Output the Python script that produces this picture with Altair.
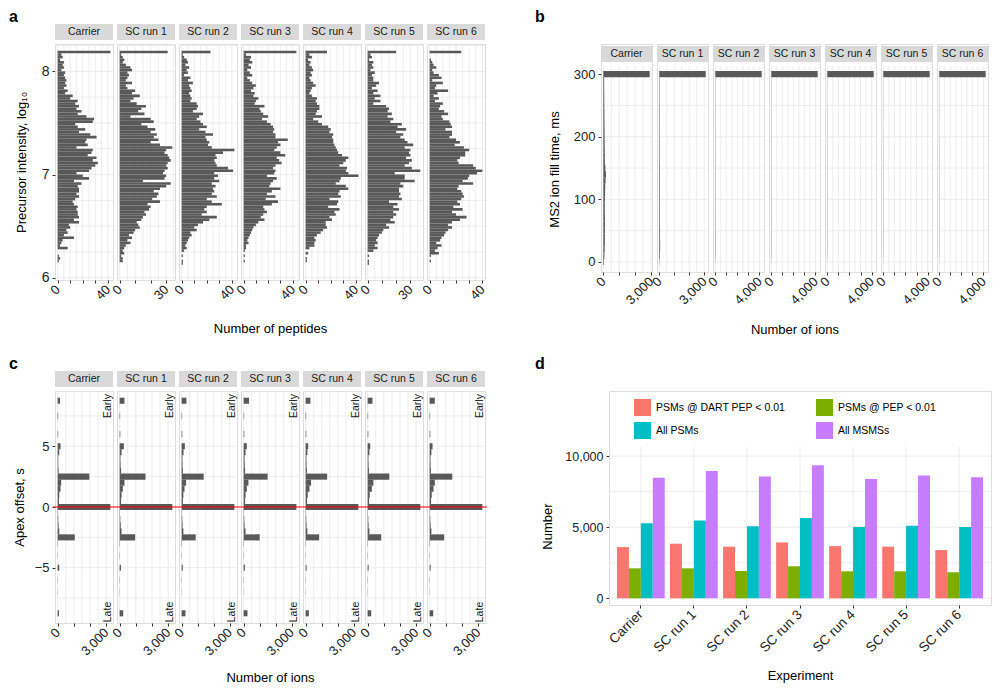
import altair as alt
import pandas as pd

RUNS = ["Carrier", "SC run 1", "SC run 2", "SC run 3", "SC run 4", "SC run 5", "SC run 6"]

# ---------------- panel a: precursor intensity histograms (bins of 0.025 log10, listed from 8.2 downwards)
A_TOP = 8.2
A_BIN = 0.025
a_carrier = [42,
             3, 4, 2, 5,
             4, 5, 3, 6, 5, 6, 7, 6, 7, 5,
             8, 6, 12, 10, 16, 14, 17, 15, 19, 16,
             23, 29, 28, 14, 16, 22, 17, 26, 31, 23,
             22, 24, 15, 28, 27, 24, 31, 28, 32, 30,
             27, 25, 15, 20, 25, 13, 19, 16, 17, 17,
             15, 17, 14, 12, 13, 16, 15, 16, 16, 17,
             13, 17, 9, 10, 7, 8, 5, 13, 4, 3,
             2, 8, 0, 0, 1, 2, 1, 0, 0]
a_sc1 = [31,
         1, 2, 3, 2,
         4, 7, 8, 5, 6, 5, 4, 8, 4, 5,
         10, 8, 13, 9, 7, 11, 17, 14, 12, 16,
         7, 20, 22, 14, 18, 23, 20, 24, 22, 25,
         20, 26, 34, 30, 29, 31, 32, 33, 31, 30,
         31, 29, 28, 30, 29, 15, 33, 30, 26, 22,
         25, 24, 21, 26, 18, 20, 19, 16, 17, 15,
         14, 11, 12, 13, 10, 9, 6, 8, 5, 7,
         4, 3, 2, 3, 1, 2, 2, 0, 0]
a_sc2 = [23,
         1, 2, 4, 5, 3, 6, 4, 5, 2, 7,
         5, 9, 6, 7, 8, 6, 7, 8, 7, 12,
         13, 12, 9, 17, 14, 12, 15, 17, 20, 14,
         19, 25, 19, 20, 22, 21, 24, 42, 33, 27,
         28, 26, 27, 28, 37, 41, 26, 29, 26, 30,
         24, 27, 25, 26, 24, 28, 20, 24, 32, 20,
         18, 20, 16, 28, 22, 17, 13, 10, 12, 7,
         8, 6, 5, 4, 3, 4, 2, 0, 1, 0, 1, 1, 0]
a_sc3 = [43,
         2, 6, 5, 7, 4, 6, 3, 5, 7, 3,
         5, 7, 10, 8, 6, 9, 8, 12, 10, 9,
         17, 13, 14, 16, 20, 15, 19, 22, 24, 25,
         24, 26, 26, 36, 28, 30, 27, 25, 30, 34,
         27, 29, 31, 26, 24, 26, 25, 19, 27, 24,
         22, 21, 30, 23, 19, 26, 18, 28, 23, 16,
         17, 19, 16, 14, 17, 12, 10, 8, 7, 6,
         5, 4, 3, 4, 2, 2, 1, 0, 1, 0, 1, 0, 0]
a_sc4 = [17,
         3, 5, 2, 4, 3, 5, 6, 4, 5, 3,
         4, 6, 8, 5, 4, 3, 5, 9, 8, 9,
         11, 11, 9, 8, 13, 6, 10, 13, 18, 20,
         19, 22, 21, 22, 22, 23, 24, 25, 26, 29,
         34, 32, 30, 27, 33, 32, 34, 42, 28, 27,
         24, 32, 34, 27, 26, 28, 19, 26, 25, 18,
         27, 23, 24, 19, 21, 16, 16, 17, 14, 12,
         9, 7, 8, 7, 7, 3, 0, 2, 0, 1, 1, 0, 0]
a_sc5 = [20,
         2, 3, 1, 4, 3, 4, 2, 5, 3, 4,
         4, 8, 6, 3, 7, 4, 9, 5, 9, 4,
         13, 15, 14, 17, 14, 18, 16, 24, 21, 27,
         20, 25, 23, 26, 28, 32, 26, 30, 29, 30,
         27, 31, 29, 26, 31, 37, 19, 26, 26, 33,
         23, 25, 22, 22, 23, 22, 24, 15, 21, 18,
         22, 18, 20, 18, 16, 19, 13, 15, 11, 10,
         8, 7, 6, 7, 5, 7, 4, 0, 1, 0, 1, 1, 0]
a_sc6 = [24,
         0, 0, 1, 2, 3, 5, 2, 3, 7, 9,
         2, 10, 5, 4, 14, 6, 3, 7, 4, 10,
         8, 7, 11, 14, 9, 10, 15, 16, 17, 12,
         17, 17, 15, 20, 23, 19, 26, 30, 27, 27,
         23, 21, 22, 33, 35, 40, 36, 30, 29, 25,
         33, 22, 21, 24, 25, 26, 24, 21, 23, 18,
         25, 17, 20, 28, 23, 17, 14, 17, 14, 12,
         11, 9, 8, 5, 9, 6, 4, 7, 1, 0, 1, 0, 0]
A_COUNTS = [a_carrier, a_sc1, a_sc2, a_sc3, a_sc4, a_sc5, a_sc6]
A_XMAX = [40, 30, 40, 40, 40, 30, 40]
A_YTICKS = [6, 7, 8]

# ---------------- panel b: MS2 fill time histograms (bins of 10 ms, centres 0..300)
B_STEP = 10
b_carrier = [40, 70, 85, 95, 100, 100, 105, 100, 95, 95, 100, 110, 120, 140, 170, 130,
             100, 95, 90, 85, 80, 80, 75, 70, 70, 65, 60, 60, 55, 55, 2920]
b_sc1 = [15, 45, 55, 55, 50, 50, 45, 45, 45, 40, 40, 40, 40, 40, 40, 40,
         35, 35, 35, 35, 30, 30, 30, 30, 30, 30, 25, 25, 25, 25, 3100]
b_sc2 = [10, 25, 30, 30, 30, 28, 28, 26, 26, 25, 25, 24, 24, 24, 24, 22,
         22, 22, 20, 20, 20, 20, 18, 18, 18, 18, 16, 16, 16, 16, 4200]
b_sc3 = [8, 20, 24, 24, 24, 22, 22, 22, 20, 20, 20, 20, 19, 19, 19, 18,
         18, 18, 17, 17, 17, 16, 16, 16, 15, 15, 15, 14, 14, 14, 4200]
b_sc4 = [6, 16, 20, 20, 20, 19, 19, 18, 18, 18, 17, 17, 17, 16, 16, 16,
         15, 15, 15, 14, 14, 14, 13, 13, 13, 12, 12, 12, 11, 11, 4190]
b_sc5 = [6, 15, 18, 18, 18, 18, 17, 17, 17, 16, 16, 16, 15, 15, 15, 14,
         14, 14, 13, 13, 13, 12, 12, 12, 11, 11, 11, 10, 10, 10, 4190]
b_sc6 = [6, 15, 18, 18, 18, 17, 17, 17, 16, 16, 16, 15, 15, 15, 14, 14,
         14, 13, 13, 13, 12, 12, 12, 11, 11, 11, 10, 10, 10, 10, 4200]
B_COUNTS = [b_carrier, b_sc1, b_sc2, b_sc3, b_sc4, b_sc5, b_sc6]
B_XMAX = [3000, 3000, 4000, 4000, 4000, 4000, 4000]
B_YTICKS = [0, 100, 200, 300]

# ---------------- panel c: apex offset histograms
C_OFFSETS = [8.75, 7.5, 6.0, 5.0, 4.5, 4.0, 3.5, 3.0, 2.5, 2.0, 1.5, 1.0, 0.5, 0.0,
             -0.5, -1.0, -1.5, -2.0, -2.5, -3.0, -4.0, -5.0, -6.0, -7.0, -8.75]
c_carrier = [150, 30, 30, 180, 100, 40, 40, 60, 1960, 220, 180, 100, 80, 3260,
             20, 40, 60, 100, 1060, 20, 15, 100, 15, 10, 80]
c_sc1 = [300, 30, 40, 260, 120, 50, 60, 90, 1600, 300, 200, 120, 90, 3260,
         20, 40, 70, 120, 960, 20, 15, 80, 15, 10, 220]
c_sc2 = [300, 30, 40, 200, 120, 50, 60, 80, 1380, 280, 180, 110, 80, 3300,
         20, 40, 60, 110, 880, 20, 15, 70, 15, 10, 240]
c_sc3 = [340, 30, 40, 200, 120, 60, 70, 90, 1500, 300, 200, 120, 90, 3300,
         20, 40, 60, 120, 1000, 20, 15, 80, 15, 10, 240]
c_sc4 = [300, 30, 40, 160, 110, 50, 60, 80, 1340, 340, 240, 130, 90, 3280,
         20, 40, 60, 110, 840, 20, 15, 60, 15, 10, 200]
c_sc5 = [300, 30, 40, 160, 110, 50, 60, 80, 1340, 360, 260, 130, 90, 3260,
         20, 40, 60, 110, 840, 20, 15, 60, 15, 10, 220]
c_sc6 = [320, 30, 40, 180, 110, 50, 60, 80, 1400, 320, 240, 130, 90, 3260,
         20, 40, 60, 110, 900, 20, 15, 60, 15, 10, 220]
C_COUNTS = [c_carrier, c_sc1, c_sc2, c_sc3, c_sc4, c_sc5, c_sc6]
C_XMAX = [3000] * 7
C_YTICKS = [-5, 0, 5]

# ---------------- panel d: identification numbers
D_SERIES = ["PSMs @ DART PEP < 0.01", "PSMs @ PEP < 0.01", "All PSMs", "All MSMSs"]
D_COLORS = ["#F8766D", "#7CAE00", "#00BFC4", "#C77CFF"]
D_LEGEND_ORDER = [0, 2, 1, 3]
d_dart = [3600, 3840, 3630, 3930, 3670, 3630, 3390]
d_pep = [2110, 2110, 1920, 2250, 1900, 1900, 1830]
d_all_psm = [5280, 5470, 5070, 5640, 5020, 5100, 5020]
d_all_msms = [8480, 8960, 8560, 9360, 8390, 8630, 8510]
D_YTICKS = [0, 5000, 10000]

# ---------------- style / layout
FONT = "Liberation Sans"
GRID = "#e8e8e8"
BAR = "#595959"
STRIP_FILL = "#d9d9d9"
TXT = "#1a1a1a"
NUMFMT = ",.0f"

W_A, SP_A, H_A = 58, 4, 236
W_B, SP_B, B_OFF, H_B_TOT = 51, 5, 22, 228
W_C, H_C = 58, 232
W_D, D_OFF, H_D_TOT = 382, 56, 214
LET_Y_TOP = -27


def letter(ch, x, y):
    return alt.Chart(pd.DataFrame({"t": [ch]})).mark_text(
        font=FONT, fontSize=16, fontWeight="bold", align="left", baseline="middle", color="#000"
    ).encode(x=alt.value(x), y=alt.value(y), text="t:N")


def strip(label, w, top):
    d = pd.DataFrame({"t": [label]})
    rect = alt.Chart(d).mark_rect(color=STRIP_FILL).encode(
        x=alt.value(0), x2=alt.value(w), y=alt.value(top - 20), y2=alt.value(top - 4))
    txt = alt.Chart(d).mark_text(font=FONT, fontSize=10.5, color=TXT).encode(
        x=alt.value(w / 2), y=alt.value(top - 12), text="t:N")
    return [rect, txt]


def x_axis(values, lab, title, tpad):
    return alt.Axis(values=values, format=NUMFMT,
                    labelExpr=f"datum.value == 0 || datum.value == {lab} ? datum.label : ''",
                    title=title, grid=False, domain=False, ticks=True, tickSize=3, tickColor="#333",
                    labelAngle=-45, labelAlign="right", labelBaseline="middle", labelPadding=4,
                    labelFontSize=13, labelColor="#222", titleFontSize=13, titleFontWeight="normal",
                    titleColor="#000", titlePadding=tpad)


def y_axis(values, title, pad, fs=13):
    return alt.Axis(values=values, format=NUMFMT, title=title, grid=False, domain=False, tickSize=3,
                    tickColor="#333", labelFontSize=fs, labelColor="#222", labelPadding=3,
                    titleFontSize=13, titleFontWeight="normal", titleColor="#000", titlePadding=pad)


def grid_x(step, stop, xs, xax, y0, y1):
    return alt.Chart(alt.sequence(0, stop, step, as_="g")).mark_rule(color=GRID, strokeWidth=0.8).encode(
        x=alt.X("g:Q", scale=xs, axis=xax), y=alt.value(y0), y2=alt.value(y1))


def grid_y(start, stop, step, ys, yax):
    return alt.Chart(alt.sequence(start, stop, step, as_="g")).mark_rule(color=GRID, strokeWidth=0.8).encode(
        y=alt.Y("g:Q", scale=ys, axis=yax))


# ---------------- panel a
def col_a(i):
    counts = A_COUNTS[i]
    hi = [A_TOP - k * A_BIN for k in range(len(counts))]
    df = pd.DataFrame({"hi": hi, "lo": [h - A_BIN for h in hi], "n": counts, "zero": 0})
    m = max(counts)
    xs = alt.Scale(domain=[-0.05 * m, 1.05 * m], nice=False, zero=False)
    ys = alt.Scale(domain=[5.978, 8.265], nice=False, zero=False)
    xax = x_axis(list(range(0, A_XMAX[i] + 1, 10)), A_XMAX[i], "Number of peptides" if i == 3 else None, 20)
    yax = y_axis(A_YTICKS, "Precursor intensity, log₁₀", 13, 14) if i == 0 else None
    bars = alt.Chart(df).mark_rect(color=BAR).encode(
        x=alt.X("n:Q", scale=xs, axis=xax), x2=alt.X2("zero"),
        y=alt.Y("lo:Q", scale=ys, axis=yax), y2=alt.Y2("hi"))
    layers = [grid_x(5, 1.05 * m, xs, xax, 0, H_A), grid_y(6.0, 8.26, 0.25, ys, yax), bars] + strip(RUNS[i], W_A, 0)
    if i == 0:
        layers.append(letter("a", -46, LET_Y_TOP))
    return alt.layer(*layers).properties(width=W_A, height=H_A)


# ---------------- panel b
def col_b(i):
    counts = B_COUNTS[i]
    cen = [B_STEP * k for k in range(len(counts))]
    df = pd.DataFrame({"lo": [c - B_STEP / 2 for c in cen], "hi": [c + B_STEP / 2 for c in cen],
                       "n": counts, "zero": 0})
    m = max(counts)
    xs = alt.Scale(domain=[-0.05 * m, 1.05 * m], nice=False, zero=False)
    ys = alt.Scale(domain=[-16, 313], range=[H_B_TOT, B_OFF], nice=False, zero=False)
    xax = x_axis(list(range(0, B_XMAX[i] + 1, 1000)), B_XMAX[i], "Number of ions" if i == 3 else None, 17)
    yax = y_axis(B_YTICKS, "MS2 ion fill time, ms", 12) if i == 0 else None
    bars = alt.Chart(df).mark_rect(color=BAR).encode(
        x=alt.X("n:Q", scale=xs, axis=xax), x2=alt.X2("zero"),
        y=alt.Y("lo:Q", scale=ys, axis=yax), y2=alt.Y2("hi"))
    layers = [grid_x(500, 1.05 * m, xs, xax, B_OFF, H_B_TOT), grid_y(0, 301, 50, ys, yax), bars] + strip(RUNS[i], W_B, B_OFF)
    if i == 0:
        layers.append(letter("b", -66, LET_Y_TOP))
    return alt.layer(*layers).properties(width=W_B, height=H_B_TOT)


# ---------------- panel c
def col_c(i):
    counts = C_COUNTS[i]
    df = pd.DataFrame({"lo": [o - 0.25 for o in C_OFFSETS], "hi": [o + 0.25 for o in C_OFFSETS],
                       "n": counts, "zero": 0})
    m = max(counts)
    xs = alt.Scale(domain=[-0.05 * m, 1.05 * m], nice=False, zero=False)
    ys = alt.Scale(domain=[-9.55, 9.55], nice=False, zero=False)
    xax = x_axis(list(range(0, C_XMAX[i] + 1, 1000)), C_XMAX[i], "Number of ions" if i == 3 else None, 14)
    yax = y_axis(C_YTICKS, "Apex offset, s", 8, 13) if i == 0 else None
    bars = alt.Chart(df).mark_rect(color=BAR).encode(
        x=alt.X("n:Q", scale=xs, axis=xax), x2=alt.X2("zero"),
        y=alt.Y("lo:Q", scale=ys, axis=yax), y2=alt.Y2("hi"))
    red = alt.Chart(pd.DataFrame({"z": [0]})).mark_rule(color="#ff0000", strokeWidth=1).encode(
        y=alt.Y("z:Q", scale=ys, axis=yax), x=alt.value(-2), x2=alt.value(W_C + 2))
    early = alt.Chart(pd.DataFrame({"t": ["Early"]})).mark_text(font=FONT, fontSize=10.5, angle=270, color=TXT).encode(
        x=alt.value(W_C - 5), y=alt.value(15), text="t:N")
    late = alt.Chart(pd.DataFrame({"t": ["Late"]})).mark_text(font=FONT, fontSize=10.5, angle=270, color=TXT).encode(
        x=alt.value(W_C - 5), y=alt.value(H_C - 11), text="t:N")
    layers = [grid_x(500, 1.05 * m, xs, xax, 0, H_C), grid_y(-7.5, 7.6, 2.5, ys, yax), bars, red,
              early, late] + strip(RUNS[i], W_C, 0)
    if i == 0:
        layers.append(letter("c", -46, -27))
    return alt.layer(*layers).properties(width=W_C, height=H_C)


# ---------------- panel d
rows = []
for s, vals in zip(D_SERIES, [d_dart, d_pep, d_all_psm, d_all_msms]):
    for r, v in zip(RUNS, vals):
        rows.append({"Experiment": r, "series": s, "value": v, "zero": 0})
d_df = pd.DataFrame(rows)

xs_d = alt.Scale(domain=RUNS, paddingInner=0.1, paddingOuter=0.15)
ys_d = alt.Scale(domain=[-470, 10640], range=[H_D_TOT, D_OFF], nice=False, zero=False)
xax_d = alt.Axis(title="Experiment", labelAngle=-45, labelAlign="right", labelBaseline="middle",
                 labelPadding=4, grid=False, domain=False, tickSize=3, tickColor="#333",
                 labelFontSize=13.5, labelColor="#222", titleFontSize=13, titleFontWeight="normal",
                 titleColor="#000", titlePadding=15)
yax_d = y_axis(D_YTICKS, "Number", 10, 12.5)

leg_domain = [D_SERIES[k] for k in D_LEGEND_ORDER]
leg_range = [D_COLORS[k] for k in D_LEGEND_ORDER]

d_hgrid = grid_y(0, 10001, 2500, ys_d, yax_d)
d_vgrid = alt.Chart(pd.DataFrame({"Experiment": RUNS})).mark_rule(color=GRID, strokeWidth=0.8).encode(
    x=alt.X("Experiment:N", scale=xs_d, axis=xax_d, sort=RUNS), y=alt.value(D_OFF), y2=alt.value(H_D_TOT))
d_bars = alt.Chart(d_df).mark_bar().encode(
    x=alt.X("Experiment:N", scale=xs_d, axis=xax_d, sort=RUNS),
    xOffset=alt.XOffset("series:N", sort=D_SERIES,
                        scale=alt.Scale(domain=D_SERIES, paddingInner=0, paddingOuter=0)),
    y=alt.Y("value:Q", scale=ys_d, axis=yax_d), y2=alt.Y2("zero"),
    color=alt.Color("series:N", sort=leg_domain,
                    scale=alt.Scale(domain=leg_domain, range=leg_range),
                    legend=alt.Legend(orient="none", legendX=25, legendY=8, columns=2, title=None,
                                      symbolType="square", symbolSize=289, symbolStrokeWidth=0,
                                      labelFontSize=10.5, labelFont=FONT, labelColor="#000",
                                      labelOffset=5, columnPadding=30, rowPadding=6, padding=0)))
panel_d = alt.layer(d_hgrid, d_vgrid, d_bars, letter("d", -74, -27)).properties(width=W_D, height=H_D_TOT)

panel_a = alt.hconcat(*[col_a(i) for i in range(7)], spacing=SP_A, bounds="flush")
panel_b = alt.hconcat(*[col_b(i) for i in range(7)], spacing=SP_B, bounds="flush")
panel_c = alt.hconcat(*[col_c(i) for i in range(7)], spacing=SP_A, bounds="flush")

top = alt.hconcat(panel_a, panel_b, spacing=46)
bottom = alt.hconcat(panel_c, panel_d, spacing=46).resolve_scale(color="independent").resolve_legend(
    color="independent")

chart = alt.vconcat(top, bottom, spacing=17).resolve_scale(color="independent").resolve_legend(
    color="independent").properties(
    padding=0, background="white"
).configure_view(stroke=None).configure(font=FONT).configure_axis(
    labelFont=FONT, titleFont=FONT)

chart.save("out.html", embed_options={"renderer": "svg", "actions": False})
